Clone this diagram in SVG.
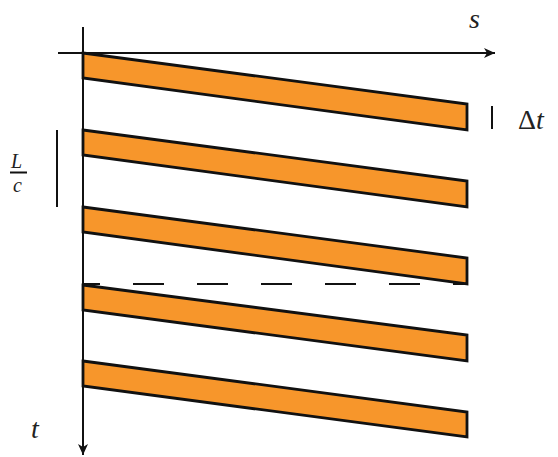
<svg xmlns="http://www.w3.org/2000/svg" width="558" height="457" viewBox="0 0 558 457">
<defs>
<style>
.band{fill:#F7962B;stroke:#111;stroke-width:2.8;stroke-linejoin:miter}
.ax{stroke:#111;stroke-width:2;fill:none}
.lbl{font-family:"Liberation Serif","DejaVu Serif",serif;font-style:italic;fill:#222}
.up{font-family:"Liberation Serif","DejaVu Serif",serif;fill:#222}
</style>
<marker id="arr" markerWidth="12" markerHeight="10" refX="11" refY="5" orient="auto" markerUnits="userSpaceOnUse">
<path d="M0,0 L11,5 L0,10 L3,5 Z" fill="#111"/>
</marker>
</defs>
<g id="band1"><polygon class="band" points="83,53 467,104 467,130 83,78"/></g>
<g id="band2"><polygon class="band" points="83,130 467,181 467,207 83,155"/></g>
<g id="band3"><polygon class="band" points="83,207 467,258 467,284 83,232"/></g>
<g id="band4"><polygon class="band" points="83,285 467,335 467,361 83,310"/></g>
<g id="band5"><polygon class="band" points="83,361 467,412 467,437 83,386"/></g>
<g id="connectors">
<line class="ax" x1="58" y1="53" x2="495" y2="53" marker-end="url(#arr)"/>
<line class="ax" x1="83" y1="27" x2="83" y2="455" marker-end="url(#arr)"/>
<line class="ax" x1="83" y1="284" x2="467" y2="284" stroke-dasharray="31 33" stroke-dashoffset="14" stroke-width="2.5"/>
<line class="ax" x1="492" y1="106" x2="492" y2="129" stroke-width="3"/>
<line class="ax" x1="57" y1="130" x2="57" y2="207" stroke-width="3"/>
<line class="ax" x1="10" y1="172.5" x2="27" y2="172.5" stroke-width="2"/>
</g>
<g id="labels">
<text class="lbl" x="469" y="28" font-size="28">s</text>
<text class="lbl" x="31" y="438" font-size="28">t</text>
<text class="up" x="518" y="129" font-size="28">Δ<tspan class="lbl">t</tspan></text>
<text class="lbl" x="11" y="168" font-size="20">L</text>
<text class="lbl" x="13" y="192" font-size="20">c</text>
</g>
</svg>
